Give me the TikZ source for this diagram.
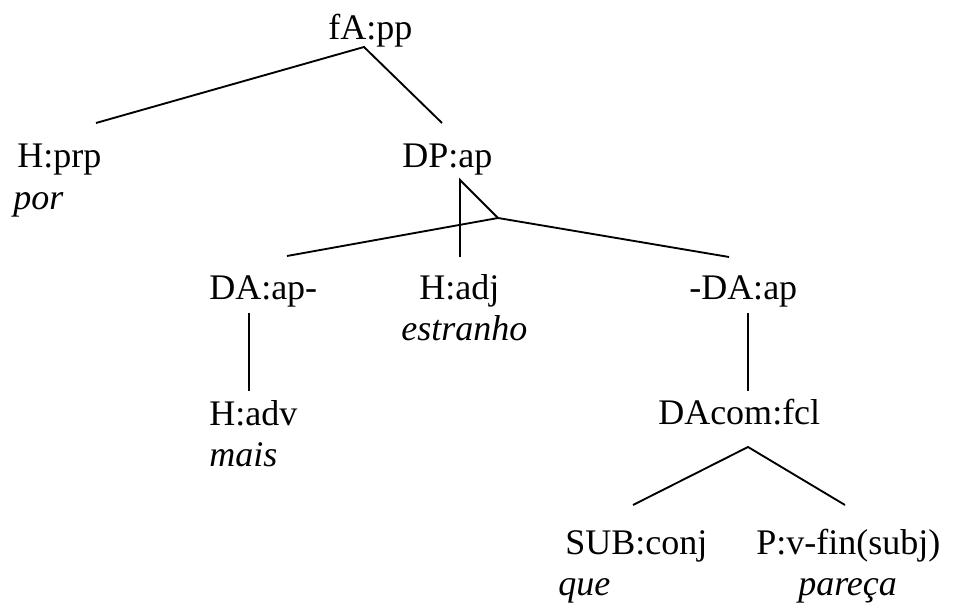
\documentclass[tikz,border=0pt]{standalone}
\usepackage{fontspec}
\setmainfont{Liberation Serif}

\begin{document}
\begin{tikzpicture}[x=0.75pt, y=-0.75pt,
    label/.style={inner sep=0pt, anchor=base west, font=\fontsize{27}{32}\selectfont},
    word/.style={label, font=\fontsize{27}{32}\selectfont\itshape},
    branch/.style={line width=1.4pt}]

    \useasboundingbox (0,0) rectangle (953,605);

    % 枝の端点の定義
    \coordinate (fA-s) at (364,47);
    \coordinate (Hprp-n) at (96,123);
    \coordinate (DPap-n) at (442,123);
    \coordinate (DPap-s) at (460,180);
    \coordinate (DPap-t) at (498,218);
    \coordinate (Hadj-n) at (460,257);
    \coordinate (DAapL-n) at (287,256);
    \coordinate (DAapR-n) at (729,257);
    \coordinate (DAapL-s) at (249,313);
    \coordinate (Hadv-n) at (249,391);
    \coordinate (DAapR-s) at (748,313);
    \coordinate (DAcom-n) at (748,391);
    \coordinate (DAcom-s) at (748,447);
    \coordinate (SUB-n) at (633,505);
    \coordinate (Pv-n) at (845,505);

    % ラベルの描画
    \node[label] (fA) at (328,40) {fA:pp};
    \node[label] (Hprp) at (17,168) {H:prp};
    \node[word] (por) at (13,210) {por};
    \node[label] (DPap) at (402,168) {DP:ap};
    \node[label] (DAapL) at (209,300) {DA:ap-};
    \node[label] (Hadj) at (419,300) {H:adj};
    \node[word] (estranho) at (401,341) {estranho};
    \node[label] (DAapR) at (689,300) {-DA:ap};
    \node[label] (Hadv) at (209,426) {H:adv};
    \node[word] (mais) at (209,467) {mais};
    \node[label] (DAcom) at (658,425) {DAcom:fcl};
    \node[label] (SUB) at (565,555) {SUB:conj};
    \node[word] (que) at (558,595) {que};
    \node[label] (Pv) at (756,555) {P:v-fin(subj)};
    \node[word] (parecca) at (798,595) {pareça};

    % 枝の描画
    \draw [branch] (Hprp-n) -- (fA-s) -- (DPap-n);
    \draw [branch] (Hadj-n) -- (DPap-s) -- (DPap-t);
    \draw [branch] (DAapL-n) -- (DPap-t) -- (DAapR-n);
    \draw [branch] (DAapL-s) -- (Hadv-n);
    \draw [branch] (DAapR-s) -- (DAcom-n);
    \draw [branch] (SUB-n) -- (DAcom-s) -- (Pv-n);

\end{tikzpicture}
\end{document}
